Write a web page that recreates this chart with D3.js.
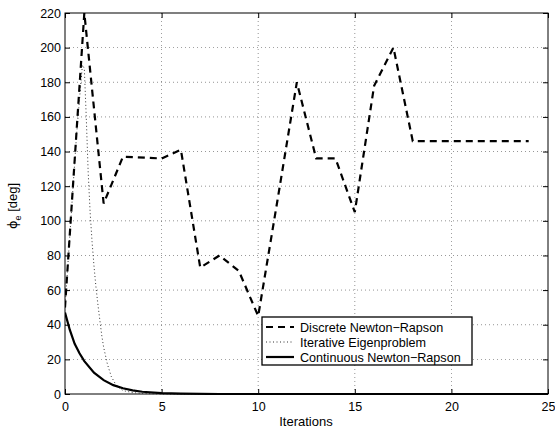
<!DOCTYPE html>
<html><head><meta charset="utf-8">
<script src="https://cdn.jsdelivr.net/npm/d3@7"></script>
<style>body{margin:0;background:#fff}svg{display:block}text{font-family:"Liberation Sans",Arial,Helvetica,sans-serif}</style>
</head><body>
<script>
// Data
const discreteX = [0,1,2,3,5,6,7,8,9,10,11,12,13,14,15,16,17,18,19,20,21,22,23,24];
const discreteY = [50,220,110,137,136,141,73,80,71,45,112,180,136,136,105,178,200,146,146,146,146,146,146,146];
const eigenX = [0,0.3,0.6,0.9,1.0,1.1,1.2,1.3,1.4,1.5,1.6,1.7,1.8,1.9,2.0,2.2,2.4,2.6,2.8,3.0,3.5,4,5,25];
const eigenY = [50,100,150,190,188,160,128,105,88,74,62,52,43,34,27,17,10,6,3.5,2,0.8,0.3,0,0];
const contX = [0,0.25,0.5,0.75,1,1.5,2,2.5,3,3.5,4,5,6,8,25];
const contY = [47,37,29,23.5,19,12.3,8,5.1,3.3,2.1,1.3,0.5,0.2,0,0];
const xTicks = [0,5,10,15,20,25];
const yTicks = [0,20,40,60,80,100,120,140,160,180,200,220];
const legendLabels = ["Discrete Newton\u2212Rapson","Iterative Eigenproblem","Continuous Newton\u2212Rapson"];

const W=555,H=429, L=65, R=548, T=13, B=394;
const svg=d3.select("body").append("svg").attr("width",W).attr("height",H);
const x=d3.scaleLinear().domain([0,25]).range([L,R]);
const y=d3.scaleLinear().domain([0,220]).range([B,T]);

// grid
const g=svg.append("g");
g.selectAll(".gx").data(xTicks.slice(1,-1)).enter().append("line")
 .attr("x1",d=>x(d)).attr("x2",d=>x(d)).attr("y1",T).attr("y2",B)
 .attr("stroke","#000").attr("stroke-width",0.6).attr("stroke-dasharray","1,3").attr("opacity",0.7);
g.selectAll(".gy").data(yTicks.slice(1,-1)).enter().append("line")
 .attr("y1",d=>y(d)).attr("y2",d=>y(d)).attr("x1",L).attr("x2",R)
 .attr("stroke","#000").attr("stroke-width",0.6).attr("stroke-dasharray","1,3").attr("opacity",0.7);

// axes
const ax=svg.append("g").attr("transform",`translate(0,${B})`)
 .call(d3.axisBottom(x).tickValues(xTicks).tickSize(-5).tickPadding(8).tickFormat(d3.format("d")));
const axT=svg.append("g").attr("transform",`translate(0,${T})`)
 .call(d3.axisTop(x).tickValues(xTicks).tickSize(-5).tickFormat(""));
const ay=svg.append("g").attr("transform",`translate(${L},0)`)
 .call(d3.axisLeft(y).tickValues(yTicks).tickSize(-5).tickPadding(4).tickFormat(d3.format("d")));
const ayR=svg.append("g").attr("transform",`translate(${R},0)`)
 .call(d3.axisRight(y).tickValues(yTicks).tickSize(-5).tickFormat(""));
[ax,axT,ay,ayR].forEach(a=>{a.select(".domain").remove();
 a.selectAll("line").attr("stroke","#000").attr("stroke-width",1);
 a.selectAll("text").attr("font-size",12.5).attr("fill","#000");});
svg.append("rect").attr("x",L).attr("y",T).attr("width",R-L).attr("height",B-T)
 .attr("fill","none").attr("stroke","#000").attr("stroke-width",1);

// lines
const clip=svg.append("clipPath").attr("id","c").append("rect").attr("x",L).attr("y",T-1).attr("width",R-L).attr("height",B-T+2);
const line=d3.line().x(d=>x(d[0])).y(d=>y(d[1]));
const lines=svg.append("g").attr("clip-path","url(#c)");
lines.append("path").datum(eigenX.map((v,i)=>[v,eigenY[i]])).attr("d",line)
 .attr("fill","none").attr("stroke","#333").attr("stroke-width",1).attr("stroke-dasharray","1,2.5");
lines.append("path").datum(contX.map((v,i)=>[v,contY[i]])).attr("d",line)
 .attr("fill","none").attr("stroke","#000").attr("stroke-width",2.2);
lines.append("path").datum(discreteX.map((v,i)=>[v,discreteY[i]])).attr("d",line)
 .attr("fill","none").attr("stroke","#000").attr("stroke-width",2.2).attr("stroke-dasharray","7,5");

// labels
svg.append("text").attr("x",306).attr("y",426).attr("text-anchor","middle").attr("font-size",13).text("Iterations");
const yl=svg.append("text").attr("transform","translate(17,206) rotate(-90)").attr("text-anchor","middle").attr("font-size",13);
yl.append("tspan").attr("font-family","DejaVu Sans").text("\u03d5");
yl.append("tspan").attr("font-size",9).attr("dy",4).text("e");
yl.append("tspan").attr("dy",-4).text(" [deg]");

// legend
const lg=svg.append("g");
const lx=262, ly=317, lw=210, lh=48;
lg.append("rect").attr("x",lx).attr("y",ly).attr("width",lw).attr("height",lh).attr("fill","#fff").attr("stroke","#000").attr("stroke-width",1.3);
const styles=[{w:2.2,da:"7,5",c:"#000"},{w:1,da:"1,2.5",c:"#333"},{w:2.2,da:null,c:"#000"}];
legendLabels.forEach((t,i)=>{
 const yy=ly+10+i*15;
 lg.append("line").attr("x1",lx+4).attr("x2",lx+32).attr("y1",yy).attr("y2",yy)
  .attr("stroke",styles[i].c).attr("stroke-width",styles[i].w).attr("stroke-dasharray",styles[i].da);
 lg.append("text").attr("x",lx+38).attr("y",yy+4.5).attr("font-size",12.6).text(t);
});
</script>
</body></html>
